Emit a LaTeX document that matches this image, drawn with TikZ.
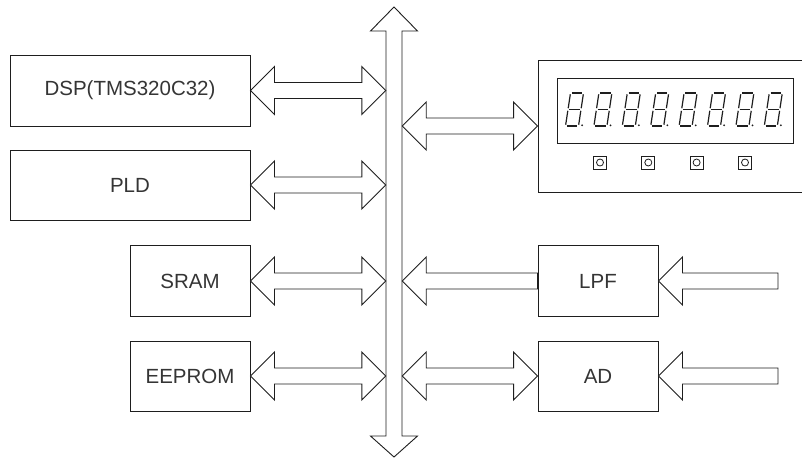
\documentclass[tikz,border=0pt]{standalone}
\usepackage{fontspec}
\setsansfont{Liberation Sans}
\usetikzlibrary{calc}
\definecolor{ink}{HTML}{1E1E1E}
\tikzset{box/.style={draw=ink,fill=white,line width=.9pt,inner sep=0pt,font=\sffamily\fontsize{20.5}{24}\selectfont,text=ink!90},fat/.style={draw=ink,fill=white,line width=.9pt,line join=miter},seg/.style={draw=ink,line width=1.2pt,shorten <=1.3pt,shorten >=1.3pt},key/.style={draw=ink,line width=.8pt}}
\newcommand{\twoway}[2]{\draw[fat] let \p1=(#1),\p2=(#2) in (\x1,\y1)--(\x1+24pt,\y1+24pt)--(\x1+24pt,\y1+8pt)--(\x2-24pt,\y2+8pt)--(\x2-24pt,\y2+24pt)--(\x2,\y2)--(\x2-24pt,\y2-24pt)--(\x2-24pt,\y2-8pt)--(\x1+24pt,\y1-8pt)--(\x1+24pt,\y1-24pt)--cycle;}
\newcommand{\oneway}[2]{\draw[fat] let \p1=(#1),\p2=(#2) in (\x1,\y1)--(\x1+24pt,\y1+24pt)--(\x1+24pt,\y1+8pt)--(\x2,\y2+8pt)--(\x2,\y2-8pt)--(\x1+24pt,\y1-8pt)--(\x1+24pt,\y1-24pt)--cycle;}
\newcommand{\busway}[2]{\draw[fat] let \p1=(#1),\p2=(#2) in (\x1,\y1)--(\x1+23.5pt,\y1-24pt)--(\x1+8pt,\y1-24pt)--(\x2+8pt,\y2+21pt)--(\x2+23.5pt,\y2+21pt)--(\x2,\y2)--(\x2-23.5pt,\y2+21pt)--(\x2-8pt,\y2+21pt)--(\x1-8pt,\y1-24pt)--(\x1-23.5pt,\y1-24pt)--cycle;}

\begin{document}
\begin{tikzpicture}[x=1pt,y=-1pt]
\useasboundingbox (0,0) rectangle (802,459);

\coordinate (bustop) at (394,7); \coordinate (busbot) at (394,457);
\node[inner sep=0pt,minimum width=16pt,minimum height=405pt] (bus) at (394,233.5) {};
\busway{bustop}{busbot}

\node[box,minimum width=240pt,minimum height=71pt] (dsp) at (130,90.5) {DSP(TMS320C32)};
\node[box,minimum width=240pt,minimum height=70pt] (pld) at (130,185) {PLD};
\node[box,minimum width=120pt,minimum height=71pt] (sram) at (190,281) {SRAM};
\node[box,minimum width=120pt,minimum height=70pt] (eeprom) at (190,376) {EEPROM};
\node[box,minimum width=120pt,minimum height=71pt] (lpf) at (598,281) {LPF};
\node[box,minimum width=120pt,minimum height=70pt] (ad) at (598,376) {AD};
\node[box,minimum width=272pt,minimum height=132pt] (disp) at (674,126) {};
\node[box,minimum width=236pt,minimum height=65pt] (digits) at (675,110.5) {};
\coordinate (inlpf) at (778,281); \coordinate (inad) at (778,376);

\twoway{dsp.east}{dsp.east -| bus.west}
\twoway{pld.east}{pld.east -| bus.west}
\twoway{sram.east}{sram.east -| bus.west}
\twoway{eeprom.east}{eeprom.east -| bus.west}
\twoway{bus.east |- disp.west}{disp.west}
\oneway{bus.east |- lpf.west}{lpf.west}
\twoway{bus.east |- ad.west}{ad.west}
\oneway{lpf.east}{inlpf}
\oneway{ad.east}{inad}

\foreach \i in {0,...,7}{
\begin{scope}[shift={(565.5+28.4*\i,126)}]
\draw[seg] (0,0)--(13,0); \draw[seg] (2.5,-16.5)--(15.5,-16.5); \draw[seg] (5,-33)--(18,-33);
\draw[seg] (0,0)--(2.5,-16.5); \draw[seg] (2.5,-16.5)--(5,-33); \draw[seg] (13,0)--(15.5,-16.5); \draw[seg] (15.5,-16.5)--(18,-33);
\fill[ink] (16.6,-.7) circle (1);
\end{scope}}
\foreach \bx in {600,648.3,696.6,745}{
\draw[key] (\bx-6.5,156) rectangle (\bx+6.5,169);
\draw[key] (\bx,162.5) circle (3.5);}
\end{tikzpicture}
\end{document}
